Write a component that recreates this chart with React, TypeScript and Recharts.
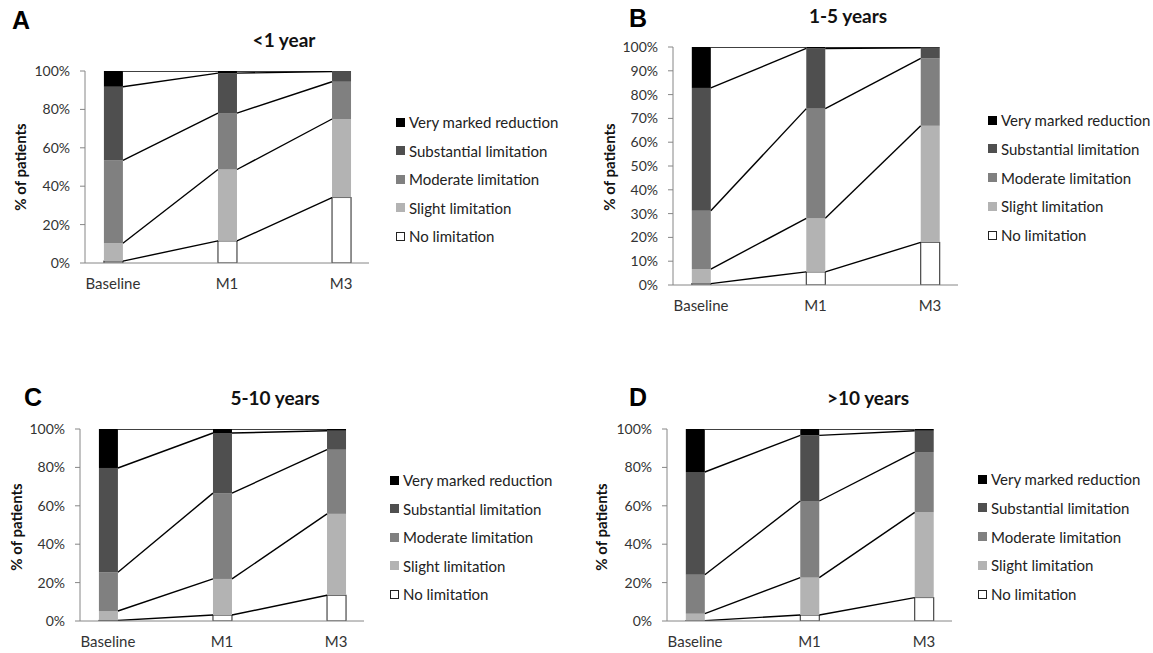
import React from 'react'
import { BarChart, Bar, XAxis, YAxis } from 'recharts'

const CATEGORIES = ['Baseline', 'M1', 'M3']
const SERIES = ['No limitation', 'Slight limitation', 'Moderate limitation', 'Substantial limitation', 'Very marked reduction']
const KEYS = ['none', 'slight', 'moderate', 'substantial', 'veryMarked']
const COLORS = ['#ffffff', '#b3b3b3', '#808080', '#4f4f4f', '#000000']

// A: <1 year  (values per category: Baseline, M1, M3)
const A_NONE = [1.0, 11.5, 34.1]
const A_SLIGHT = [9.3, 37.2, 40.9]
const A_MODERATE = [43.1, 29.4, 19.4]
const A_SUBSTANTIAL = [38.4, 20.8, 5.3]
const A_VERY = [8.2, 1.1, 0.3]

// B: 1-5 years
const B_NONE = [0.6, 5.5, 17.9]
const B_SLIGHT = [6.1, 22.5, 49.0]
const B_MODERATE = [24.5, 46.1, 28.3]
const B_SUBSTANTIAL = [51.6, 25.3, 4.5]
const B_VERY = [17.2, 0.6, 0.3]

// C: 5-10 years
const C_NONE = [0.3, 3.1, 13.4]
const C_SLIGHT = [4.9, 18.8, 42.4]
const C_MODERATE = [20.2, 44.7, 33.4]
const C_SUBSTANTIAL = [54.3, 31.3, 9.9]
const C_VERY = [20.3, 2.1, 0.9]

// D: >10 years
const D_NONE = [0.2, 3.1, 12.2]
const D_SLIGHT = [3.6, 19.5, 44.4]
const D_MODERATE = [20.3, 39.9, 31.4]
const D_SUBSTANTIAL = [53.5, 34.2, 11.1]
const D_VERY = [22.4, 3.3, 0.9]

const TICKS_20 = [0, 20, 40, 60, 80, 100]
const TICKS_10 = [0, 10, 20, 30, 40, 50, 60, 70, 80, 90, 100]

const PANELS = [
  {
    id: 'A', title: '<1 year', values: [A_NONE, A_SLIGHT, A_MODERATE, A_SUBSTANTIAL, A_VERY], yTicks: TICKS_20,
    ox: 0, oy: 0, plot: { l: 85, r: 369, t: 71, b: 263 },
    letter: [21, 20], titlePos: [284, 39], legend: [396, 122, 28.5], yLabel: [20, 167],
  },
  {
    id: 'B', title: '1-5 years', values: [B_NONE, B_SLIGHT, B_MODERATE, B_SUBSTANTIAL, B_VERY], yTicks: TICKS_10,
    ox: 575, oy: 0, plot: { l: 673, r: 958, t: 47, b: 285 },
    letter: [638, 18], titlePos: [848, 15], legend: [988, 120, 28.75], yLabel: [609, 167],
  },
  {
    id: 'C', title: '5-10 years', values: [C_NONE, C_SLIGHT, C_MODERATE, C_SUBSTANTIAL, C_VERY], yTicks: TICKS_20,
    ox: 0, oy: 326, plot: { l: 80, r: 364, t: 429, b: 621 },
    letter: [33, 397], titlePos: [275, 397], legend: [390, 480, 28.5], yLabel: [16, 527],
  },
  {
    id: 'D', title: '>10 years', values: [D_NONE, D_SLIGHT, D_MODERATE, D_SUBSTANTIAL, D_VERY], yTicks: TICKS_20,
    ox: 575, oy: 326, plot: { l: 667, r: 952, t: 429, b: 621 },
    letter: [638, 397], titlePos: [868, 397], legend: [978, 479, 28.75], yLabel: [601, 527],
  },
]

const W = 578
const H = 327
const YW = 60
const XH = 30

// remembers where each segment ended so the next category can draw the series line back to it
const segmentTops = new Map<string, { right: number; top: number }>()

function linkedSegment(key: string, color: string, boxed: boolean) {
  return (props: any) => {
    const { x, y, width, height, index } = props
    segmentTops.set(`${key}:${index}`, { right: x + width, top: y })
    const prev = index > 0 ? segmentTops.get(`${key}:${index - 1}`) : undefined
    return (
      <g>
        <rect x={x} y={y} width={width} height={Math.max(0, height)} fill={color} stroke={boxed ? '#222' : 'none'} strokeWidth={1} />
        {prev && <line x1={prev.right} y1={prev.top} x2={x} y2={y} stroke="#000" strokeWidth={1.4} />}
      </g>
    )
  }
}

const axisTick = { fontSize: 14, fill: '#333', fontFamily: 'Lato, sans-serif' }
const catTick = { fontSize: 15, fill: '#333', fontFamily: 'Lato, sans-serif' }

function Panel({ p }: { p: (typeof PANELS)[number] }) {
  const rows = CATEGORIES.map((name, i) => {
    const row: Record<string, number | string> = { idx: i, name }
    KEYS.forEach((k, s) => { row[k] = p.values[s][i] })
    return row
  })
  const margin = {
    left: p.plot.l - p.ox - YW,
    right: p.ox + W - p.plot.r,
    top: p.plot.t - p.oy,
    bottom: p.oy + H - p.plot.b - XH,
  }
  return (
    <div style={{ position: 'absolute', left: p.ox, top: p.oy, width: W, height: H }}>
      <BarChart width={W} height={H} data={rows} margin={margin} barSize={19}>
        <XAxis
          dataKey="idx"
          type="number"
          domain={[-0.245, 2.245]}
          allowDataOverflow
          ticks={[0, 1, 2]}
          tickFormatter={(v: number) => CATEGORIES[v]}
          tick={catTick}
          tickLine={false}
          tickSize={0}
          tickMargin={15}
          axisLine={{ stroke: '#868686' }}
          height={XH}
        />
        <YAxis
          type="number"
          domain={[0, 100]}
          allowDataOverflow
          ticks={p.yTicks}
          interval={0}
          tickFormatter={(v: number) => `${v}%`}
          tick={axisTick}
          tickSize={5}
          tickMargin={10}
          tickLine={{ stroke: '#868686' }}
          axisLine={{ stroke: '#868686' }}
          width={YW}
        />
        {KEYS.map((k, s) => (
          <Bar
            key={k}
            dataKey={k}
            name={SERIES[s]}
            stackId="a"
            fill={COLORS[s]}
            isAnimationActive={false}
            shape={linkedSegment(`${p.id}-${k}`, COLORS[s], s === 0)}
          />
        ))}
      </BarChart>
    </div>
  )
}

function Texts({ p }: { p: (typeof PANELS)[number] }) {
  const center = { position: 'absolute' as const, transform: 'translate(-50%, -50%)', lineHeight: 1, whiteSpace: 'nowrap' as const }
  const [lx, ly, step] = p.legend
  return (
    <>
      <div style={{ ...center, left: p.letter[0], top: p.letter[1], fontFamily: 'Liberation Sans, Arial, sans-serif', fontWeight: 700, fontSize: 25, color: '#000' }}>{p.id}</div>
      <div style={{ ...center, left: p.titlePos[0], top: p.titlePos[1], fontWeight: 700, fontSize: 19, color: '#111' }}>{p.title}</div>
      <div style={{ ...center, left: p.yLabel[0], top: p.yLabel[1], transform: 'translate(-50%, -50%) rotate(-90deg)', fontWeight: 700, fontSize: 15, color: '#111' }}>% of patients</div>
      {[4, 3, 2, 1, 0].map((s, r) => (
        <div key={s} style={{ position: 'absolute', left: lx, top: ly + r * step - 8, height: 16, display: 'flex', alignItems: 'center', whiteSpace: 'nowrap', fontSize: 15, color: '#222' }}>
          <span style={{ display: 'inline-block', width: 9, height: 9, background: COLORS[s], border: s === 0 ? '1px solid #222' : 'none', boxSizing: 'border-box', marginRight: 4 }} />
          {SERIES[s]}
        </div>
      ))}
    </>
  )
}

export default function App() {
  return (
    <div style={{ position: 'absolute', left: 0, top: 0, width: 1153, height: 653, overflow: 'hidden', background: '#fff', fontFamily: 'Lato, sans-serif' }}>
      {PANELS.map((p) => <Panel key={p.id} p={p} />)}
      {PANELS.map((p) => <Texts key={p.id} p={p} />)}
    </div>
  )
}
